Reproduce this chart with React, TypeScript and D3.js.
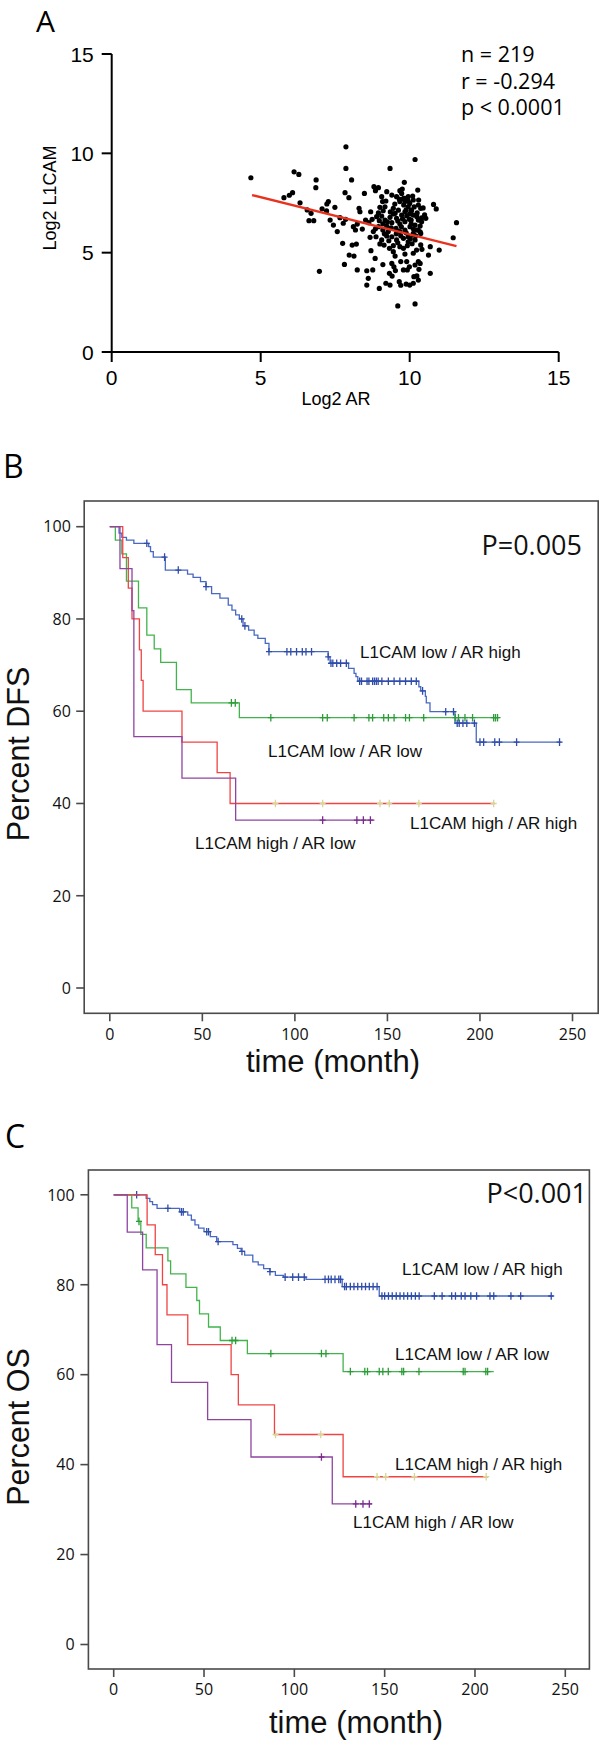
import React from 'react';
import { curveStepAfter, line, scaleLinear } from 'd3';

type Pt = [number, number];

// ---- panel A: Log2 AR vs Log2 L1CAM ----
const scatterTicks = [0, 5, 10, 15];
const statsLines = ['n = 219', 'r = -0.294', 'p < 0.0001'];
const fitLine: Pt[] = [[4.71, 7.9], [11.57, 5.33]];
const scatterPoints: Pt[] = [
  [4.67, 8.77], [6.12, 9.07], [6.28, 8.94], [6.86, 8.66], [6.85, 8.27], [5.78, 7.77], [5.96, 7.89],
  [6.07, 8.02], [6.32, 7.51], [6.56, 7.15], [6.69, 6.98], [6.62, 6.61], [6.78, 6.61], [6.97, 4.06],
  [7.06, 7.21], [7.22, 7.45], [7.27, 7.57], [7.21, 7.1], [7.33, 6.64], [7.44, 6.39], [7.57, 6.06],
  [7.49, 7.28], [7.66, 6.76], [7.77, 6.48], [7.85, 6.68], [7.75, 5.47], [7.81, 4.41], [7.86, 10.33],
  [7.86, 9.24], [8.05, 8.66], [7.83, 8.02], [7.96, 7.77], [8.11, 6.31], [8.18, 6.14], [8.24, 6.44],
  [8.07, 5.38], [8.21, 5.43], [7.97, 4.88], [8.13, 4.83], [8.24, 4.13], [8.56, 4.09], [8.76, 4.13],
  [8.3, 7.23], [8.33, 7.06], [8.41, 6.19], [8.48, 7.98], [8.69, 7.06], [8.67, 5.77], [8.52, 6.64],
  [8.63, 6.51], [8.74, 6.68], [8.84, 4.71], [8.61, 3.71], [8.56, 3.37], [8.98, 3.2], [8.8, 8.32],
  [8.95, 8.27], [8.85, 8.12], [9.06, 7.82], [9.09, 7.57], [9.0, 7.28], [9.11, 7.11], [9.34, 9.24],
  [9.23, 8.07], [9.82, 8.54], [10.18, 9.69], [9.73, 7.98], [9.79, 7.73], [9.67, 7.57], [9.84, 7.57],
  [10.27, 8.15], [9.06, 5.64], [9.0, 5.44], [9.14, 5.38], [9.23, 5.84], [9.32, 5.22], [9.45, 5.05],
  [9.51, 4.83], [9.4, 4.46], [9.47, 4.29], [9.32, 3.96], [9.41, 3.82], [9.2, 3.46], [9.34, 3.37],
  [9.65, 3.54], [9.7, 3.36], [9.88, 3.42], [9.79, 4.13], [9.92, 4.13], [9.99, 4.29], [9.7, 4.55],
  [9.9, 4.55], [9.84, 4.93], [10.14, 3.79], [10.29, 3.62], [10.18, 4.38], [10.29, 4.55], [10.12, 4.97],
  [10.23, 5.13], [9.67, 5.3], [9.79, 5.22], [9.95, 5.55], [8.89, 6.81], [8.98, 6.61], [9.06, 6.84],
  [9.17, 6.64], [8.95, 6.31], [9.1, 6.14], [9.23, 6.34], [9.34, 6.78], [9.4, 6.51], [9.51, 6.98],
  [9.56, 6.73], [9.45, 7.23], [9.62, 7.14], [9.73, 6.89], [9.84, 7.06], [9.95, 7.31], [10.06, 7.14],
  [10.12, 6.89], [9.99, 6.68], [9.84, 6.56], [9.67, 6.44], [9.54, 6.22], [9.67, 6.06], [9.84, 6.14],
  [10.01, 6.31], [10.18, 6.39], [10.29, 6.64], [10.23, 6.14], [10.12, 5.89], [9.95, 5.8], [9.79, 5.72],
  [9.56, 5.64], [9.4, 5.8], [9.28, 6.06], [9.56, 7.82], [9.67, 8.12], [9.95, 7.82], [10.12, 7.65],
  [10.29, 7.4], [8.78, 6.06], [8.87, 5.8], [9.17, 7.31], [10.37, 7.23], [10.5, 6.9], [10.54, 6.73],
  [10.35, 6.34], [10.8, 7.43], [10.89, 7.2], [10.37, 5.39], [10.41, 5.17], [10.69, 5.3], [10.63, 4.88],
  [10.99, 5.13], [11.46, 5.75], [11.57, 6.51], [10.69, 3.96], [10.35, 4.46], [10.31, 4.16], [10.24, 3.83],
  [10.12, 3.46], [10.0, 3.37], [10.18, 2.42], [9.6, 2.32], [10.28, 6.14], [10.12, 5.97], [10.05, 6.64],
  [10.24, 6.81], [10.05, 7.11], [10.37, 5.97], [10.18, 5.64], [10.0, 7.48], [9.83, 7.73], [9.45, 6.95],
  [9.6, 6.6], [9.72, 6.3], [9.9, 6.85], [10.05, 6.45], [10.15, 7.3], [10.25, 7.0], [10.4, 6.55],
  [9.35, 7.05], [9.5, 7.45], [9.65, 7.7], [9.8, 7.4], [9.95, 7.6], [10.1, 7.85], [10.3, 7.65],
  [10.45, 7.25], [9.25, 6.55], [9.38, 6.25], [9.55, 5.95], [9.7, 5.85], [9.88, 6.0], [10.02, 5.7],
  [10.2, 5.85], [10.35, 6.05], [9.15, 5.95], [9.3, 5.6], [9.45, 5.35], [9.6, 5.5], [9.92, 5.35],
  [10.08, 5.45], [8.95, 7.0], [9.1, 6.45], [8.85, 6.2], [9.2, 7.6], [9.4, 7.9], [9.75, 8.2],
  [9.88, 7.15], [10.0, 6.95], [10.4, 6.75], [9.58, 6.1], [9.76, 6.7], [10.12, 6.2], [9.52, 4.1],
  [9.1, 4.4], [8.7, 5.1],
];

// ---- panels B and C: Kaplan-Meier ----
const survTicksY = [0, 20, 40, 60, 80, 100];
const survTicksX = [0, 50, 100, 150, 200, 250];

// [time of drop, survival after drop]
const dfsLowHigh: Pt[] = [
  [0, 100], [5, 98.6], [6.5, 97.7], [9, 97.1], [13, 96.4], [21, 95.7], [22, 94.6], [23.5, 93.4],
  [30, 90.6], [42, 89.7], [45, 89], [49, 88.1], [52, 87], [55, 85.5], [59.5, 84.5], [64, 83],
  [66, 81.9], [68, 80.9], [70, 80], [72, 78.5], [75, 77.6], [78, 76.5], [80, 75.8], [84, 74.7],
  [86, 72.9], [118, 71.8], [119, 70.4], [129, 69.3], [132, 68.2], [133, 67.5], [134, 66.5],
  [167, 65.3], [168, 64.4], [170.5, 63.2], [171, 61.8], [173, 59.9], [186.5, 57.4], [198, 53.3],
];
const dfsLowHighCens = [
  20, 29.6, 37, 52, 71.3, 73, 86, 95.7, 97.8, 100.9, 104, 106, 109, 118, 119.5, 120.5, 122.6, 124.7,
  127.8, 135, 136, 139, 140, 142, 143, 144, 145, 147, 150.5, 153.6, 156.7, 159.8, 162.9, 165.6, 169,
  181.5, 185.7, 187.7, 188.8, 190.8, 192.9, 197, 200, 202, 208, 210.5, 219.8, 243,
];
const dfsLowLow: Pt[] = [
  [0, 100], [3, 97.1], [6.5, 94.1], [9, 88.2], [15.5, 82.4], [20, 76.5], [24, 73.5], [27.5, 70.6],
  [36, 64.7], [44, 61.8], [70, 58.6],
];
const dfsLowLowCens = [
  65.7, 67.8, 87, 115, 117.5, 132, 140, 142, 148, 150.5, 153.6, 159.8, 161.9, 169.6, 186.7, 188.4,
  191.9, 196, 207.4, 208.4, 209.5,
];
const dfsHighHigh: Pt[] = [
  [0, 100], [7, 93.3], [10, 86.7], [12, 80], [16, 73.3], [17, 66.7], [18, 60], [39, 53.3],
  [58, 46.7], [65, 40],
];
const dfsHighHighCens = [89.5, 115, 146, 151, 167, 207.4];
const dfsHighLow: Pt[] = [
  [0, 100], [5.5, 90.9], [12, 81.8], [13, 54.5], [39, 45.5], [68, 36.4],
];
const dfsHighLowCens = [115, 133.5, 137, 140.8];

const osLowHigh: Pt[] = [
  [0, 100], [18, 99.2], [20, 98.5], [21.5, 97.8], [24, 97], [36.5, 96.2], [41, 95.5], [43, 94.4],
  [45, 93.3], [47, 92.6], [50, 91.8], [53.5, 90.7], [57, 89.6], [66, 88.9], [68.5, 88.1], [70.5, 87.4],
  [72.5, 86.6], [77, 85.1], [80, 84.4], [83, 83.6], [86.5, 82.9], [89.5, 82.1], [94, 81.7],
  [106.5, 81.2], [126.5, 79.6], [147, 77.5],
];
const osLowHighCens = [
  12.7, 30, 37.5, 38.5, 51.5, 52.5, 57.8, 71, 86.5, 94.9, 99.1, 102.3, 105.5, 117, 118.9, 120.4,
  122.5, 124.6, 125.6, 127.8, 128.8, 131, 133, 135.1, 137.3, 139.4, 141.5, 143.6, 145.8, 148.5, 150,
  152.1, 154.2, 156.4, 158.5, 160.6, 162.7, 164.8, 167, 169.1, 177.5, 181.8, 187.1, 189.2, 192.4,
  194.5, 197.7, 200.9, 208.3, 210.4, 219.9, 225.3, 242.2,
];
const osLowLow: Pt[] = [
  [0, 100], [10, 97.1], [13.5, 94.1], [15, 91.2], [18, 88.2], [30, 85.3], [31.5, 82.4], [40, 79.4],
  [46, 76.5], [47.5, 73.5], [52.5, 70.6], [59, 67.6], [74, 64.7], [127, 60.7],
];
const osLowLowCens = [
  14, 65.5, 67.5, 87, 115, 117.5, 131, 139, 140.5, 147, 149, 152, 159.5, 160.5, 169, 193.5, 194.5,
  206, 207,
];
const osHighHigh: Pt[] = [
  [0, 100], [18.5, 93.3], [23, 86.7], [27, 80], [29.5, 73.3], [41, 66.7], [65, 60], [69, 53.3],
  [89, 46.7], [127, 37.3],
];
const osHighHighCens = [89.6, 114.6, 145.8, 150.6, 166.5, 206.2];
const osHighLow: Pt[] = [
  [0, 100], [7.5, 91.7], [16, 83.3], [24, 66.7], [32, 58.3], [52, 50], [76, 41.7], [121, 31.25],
];
const osHighLowCens = [115, 134, 138, 141.5];

type Curve = {
  name: string;
  steps: Pt[];
  end: number;
  cens: number[];
  color: string;
  mark: string;
  label: [number, number];
};

const COLORS = {
  blue: ['#4868c2', '#2f4ca8'],
  green: ['#42b44c', '#2c9c38'],
  red: ['#f04444', '#d8d596'],
  purple: ['#8f45a0', '#7a2c8c'],
};

const dfsCurves: Curve[] = [
  { name: 'L1CAM low / AR high', steps: dfsLowHigh, end: 244, cens: dfsLowHighCens, color: COLORS.blue[0], mark: COLORS.blue[1], label: [360, 658] },
  { name: 'L1CAM low / AR low', steps: dfsLowLow, end: 210.5, cens: dfsLowLowCens, color: COLORS.green[0], mark: COLORS.green[1], label: [268, 757] },
  { name: 'L1CAM high / AR high', steps: dfsHighHigh, end: 208, cens: dfsHighHighCens, color: COLORS.red[0], mark: COLORS.red[1], label: [410, 829] },
  { name: 'L1CAM high / AR low', steps: dfsHighLow, end: 143, cens: dfsHighLowCens, color: COLORS.purple[0], mark: COLORS.purple[1], label: [195, 849] },
];

const osCurves: Curve[] = [
  { name: 'L1CAM low / AR high', steps: osLowHigh, end: 243.3, cens: osLowHighCens, color: COLORS.blue[0], mark: COLORS.blue[1], label: [402, 1275] },
  { name: 'L1CAM low / AR low', steps: osLowLow, end: 210.4, cens: osLowLowCens, color: COLORS.green[0], mark: COLORS.green[1], label: [395, 1360] },
  { name: 'L1CAM high / AR high', steps: osHighHigh, end: 207.2, cens: osHighHighCens, color: COLORS.red[0], mark: COLORS.red[1], label: [395, 1470] },
  { name: 'L1CAM high / AR low', steps: osHighLow, end: 143, cens: osHighLowCens, color: COLORS.purple[0], mark: COLORS.purple[1], label: [353, 1528] },
];

const ARIAL = '"Liberation Sans", Arial, sans-serif';
const MYRIAD = '"Open Sans", sans-serif';

function valueAt(steps: Pt[], t: number) {
  let v = steps[0][1];
  for (const [s, val] of steps) if (s <= t) v = val;
  return v;
}

type KMProps = {
  curves: Curve[];
  frame: { x0: number; x1: number; y0: number; y1: number };
  xRange: [number, number];
  yRange: [number, number];
  pLabel: string;
  pPos: [number, number];
  yTitle: string;
  yTitlePos: [number, number];
  xTitlePos: [number, number];
  tickLabelRight: number;
  xLabelBaseline: number;
  letter: string;
  letterPos: [number, number];
};

function KMPanel(p: KMProps) {
  const x = scaleLinear().domain([0, 250]).range(p.xRange);
  const y = scaleLinear().domain([0, 100]).range(p.yRange);
  const path = line<Pt>()
    .x(d => x(d[0]))
    .y(d => y(d[1]))
    .curve(curveStepAfter);
  const f = p.frame;
  return (
    <g>
      <text x={p.letterPos[0]} y={p.letterPos[1]} fontFamily={MYRIAD} fontSize={32}>
        {p.letter}
      </text>
      <rect x={f.x0} y={f.y0} width={f.x1 - f.x0} height={f.y1 - f.y0} fill="none" stroke="#4a4a4a" strokeWidth={1.6} />
      {survTicksY.map(v => (
        <g key={'y' + v}>
          <line x1={f.x0 - 8} x2={f.x0} y1={y(v)} y2={y(v)} stroke="#4a4a4a" strokeWidth={1.6} />
          <text x={p.tickLabelRight} y={y(v)} dy="0.36em" textAnchor="end" fontFamily={MYRIAD} fontSize={16} fill="#111">
            {v}
          </text>
        </g>
      ))}
      {survTicksX.map(t => (
        <g key={'x' + t}>
          <line x1={x(t)} x2={x(t)} y1={f.y1} y2={f.y1 + 8} stroke="#4a4a4a" strokeWidth={1.6} />
          <text x={x(t)} y={p.xLabelBaseline} textAnchor="middle" fontFamily={MYRIAD} fontSize={16} fill="#111">
            {t}
          </text>
        </g>
      ))}
      {p.curves.map(c => (
        <g key={c.name}>
          <path
            d={path([...c.steps, [c.end, c.steps[c.steps.length - 1][1]]]) ?? ''}
            fill="none"
            stroke={c.color}
            strokeWidth={1.3}
          />
          {c.cens.map((t, i) => {
            const cx = x(t);
            const cy = y(valueAt(c.steps, t));
            return (
              <path
                key={i}
                d={`M${cx},${cy - 3.8}V${cy + 3.8}M${cx - 3},${cy}H${cx + 3}`}
                stroke={c.mark}
                strokeWidth={1.3}
                fill="none"
              />
            );
          })}
        </g>
      ))}
      {p.curves.map(c => (
        <text key={'l' + c.name} x={c.label[0]} y={c.label[1]} fontFamily={ARIAL} fontSize={17} fill="#111">
          {c.name}
        </text>
      ))}
      <text x={p.pPos[0]} y={p.pPos[1]} textAnchor="end" fontFamily={MYRIAD} fontSize={27} fill="#111">
        {p.pLabel}
      </text>
      <text
        transform={`translate(${p.yTitlePos[0]},${p.yTitlePos[1]}) rotate(-90)`}
        textAnchor="middle"
        fontFamily={ARIAL}
        fontSize={30.5}
        fill="#111"
      >
        {p.yTitle}
      </text>
      <text x={p.xTitlePos[0]} y={p.xTitlePos[1]} textAnchor="middle" fontFamily={ARIAL} fontSize={31} fill="#111">
        time (month)
      </text>
    </g>
  );
}

function ScatterPanel() {
  const x = scaleLinear().domain([0, 15]).range([111.7, 558.7]);
  const y = scaleLinear().domain([0, 15]).range([352, 54]);
  return (
    <g>
      <text x={36} y={32} fontFamily={MYRIAD} fontSize={30}>
        A
      </text>
      <line x1={x(0)} x2={x(0)} y1={y(15)} y2={y(0)} stroke="#000" strokeWidth={2} />
      <line x1={x(0)} x2={x(15)} y1={y(0)} y2={y(0)} stroke="#000" strokeWidth={2} />
      {scatterTicks.map(v => (
        <g key={v}>
          <line x1={x(0) - 10} x2={x(0)} y1={y(v)} y2={y(v)} stroke="#000" strokeWidth={2} />
          <text x={93.8} y={y(v)} dy="0.36em" textAnchor="end" fontFamily={ARIAL} fontSize={21}>
            {v}
          </text>
          <line x1={x(v)} x2={x(v)} y1={y(0)} y2={y(0) + 10} stroke="#000" strokeWidth={2} />
          <text x={x(v)} y={385} textAnchor="middle" fontFamily={ARIAL} fontSize={21}>
            {v}
          </text>
        </g>
      ))}
      <text x={336} y={405} textAnchor="middle" fontFamily={ARIAL} fontSize={18}>
        Log2 AR
      </text>
      <text transform="translate(56,198) rotate(-90)" textAnchor="middle" fontFamily={ARIAL} fontSize={18}>
        Log2 L1CAM
      </text>
      {scatterPoints.map((d, i) => (
        <circle key={i} cx={x(d[0])} cy={y(d[1])} r={2.6} fill="#000" />
      ))}
      <line
        x1={x(fitLine[0][0])}
        y1={y(fitLine[0][1])}
        x2={x(fitLine[1][0])}
        y2={y(fitLine[1][1])}
        stroke="#e8321e"
        strokeWidth={2.3}
      />
      {statsLines.map((s, i) => (
        <text key={s} x={461} y={62 + i * 26.5} fontFamily={MYRIAD} fontSize={21.5}>
          {s}
        </text>
      ))}
    </g>
  );
}

export default function App() {
  return (
    <div style={{ position: 'absolute', left: 0, top: 0 }}>
      <svg width={600} height={1746} style={{ display: 'block', background: '#fff' }}>
        <ScatterPanel />
        <KMPanel
          curves={dfsCurves}
          frame={{ x0: 84.2, x1: 598.2, y0: 501, y1: 1013.3 }}
          xRange={[109.8, 572.5]}
          yRange={[988, 526.7]}
          pLabel="P=0.005"
          pPos={[582, 555]}
          yTitle="Percent DFS"
          yTitlePos={[29, 754]}
          xTitlePos={[333, 1072]}
          tickLabelRight={70.8}
          xLabelBaseline={1040}
          letter="B"
          letterPos={[3, 478]}
        />
        <KMPanel
          curves={osCurves}
          frame={{ x0: 88.4, x1: 589.4, y0: 1170, y1: 1669 }}
          xRange={[113.7, 565.3]}
          yRange={[1644.5, 1194.8]}
          pLabel="P<0.001"
          pPos={[587, 1203]}
          yTitle="Percent OS"
          yTitlePos={[29, 1427]}
          xTitlePos={[356, 1733]}
          tickLabelRight={74.6}
          xLabelBaseline={1695}
          letter="C"
          letterPos={[5, 1148]}
        />
      </svg>
    </div>
  );
}
